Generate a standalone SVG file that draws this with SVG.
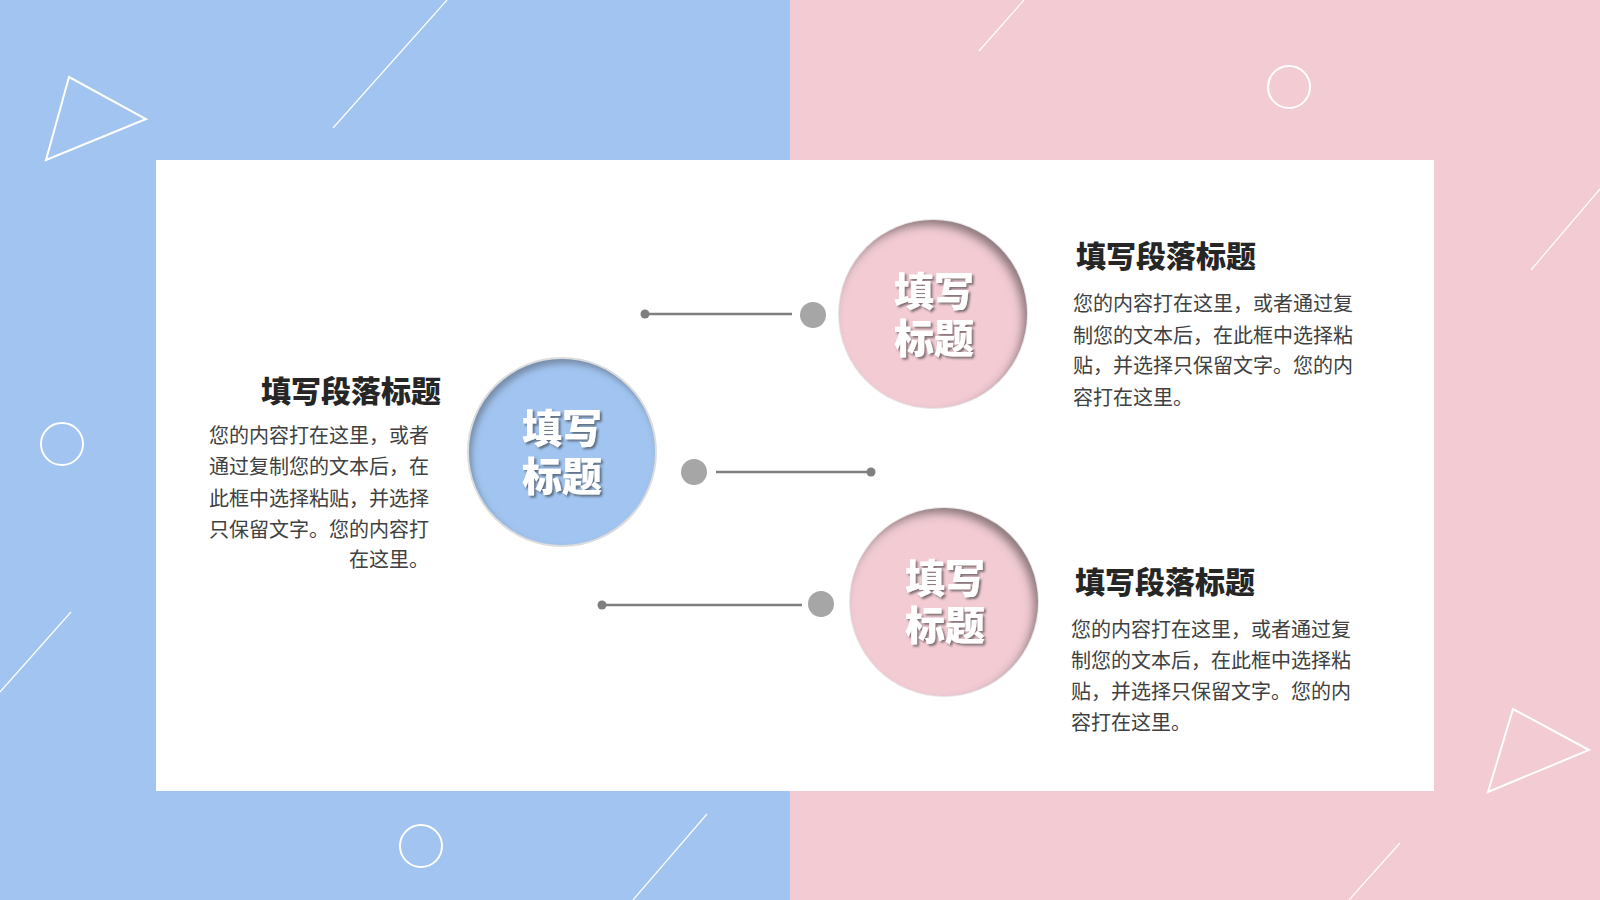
<svg xmlns="http://www.w3.org/2000/svg" width="1600" height="900" viewBox="0 0 1600 900">
<defs>
<style>
.deco{fill:none;stroke:#fff;stroke-width:2}
.decothin{fill:none;stroke:#fff;stroke-width:1.2}
.ctext{font-family:"Noto Sans CJK SC","Noto Sans",sans-serif;font-weight:900;font-size:40px;fill:#fff;text-anchor:middle}
.head{font-family:"Noto Sans CJK SC","Noto Sans",sans-serif;font-weight:900;font-size:30px;fill:#262626}
.body{font-family:"Noto Sans CJK SC","Noto Sans",sans-serif;font-size:20px;fill:#404040}
.conn{stroke:#7f7f7f;stroke-width:2.5}
.big{fill:#a6a6a6}
.small{fill:#7f7f7f}
</style>
<filter id="insetPink" x="-20%" y="-20%" width="140%" height="140%">
<feOffset in="SourceAlpha" dx="-5" dy="6" result="off"/>
<feGaussianBlur in="off" stdDeviation="4" result="blur"/>
<feComposite in="SourceAlpha" in2="blur" operator="out" result="inv"/>
<feFlood flood-color="#4a4a4a" flood-opacity="0.75"/>
<feComposite in2="inv" operator="in" result="sh"/>
<feMerge><feMergeNode in="SourceGraphic"/><feMergeNode in="sh"/></feMerge>
</filter>
<filter id="insetBlue" x="-20%" y="-20%" width="140%" height="140%">
<feOffset in="SourceAlpha" dx="3" dy="5" result="off"/>
<feGaussianBlur in="off" stdDeviation="3" result="blur"/>
<feComposite in="SourceAlpha" in2="blur" operator="out" result="inv"/>
<feFlood flood-color="#4a4a4a" flood-opacity="0.6"/>
<feComposite in2="inv" operator="in" result="sh"/>
<feMerge><feMergeNode in="SourceGraphic"/><feMergeNode in="sh"/></feMerge>
</filter>
<filter id="tshadow" x="-20%" y="-20%" width="140%" height="140%">
<feDropShadow dx="2" dy="2" stdDeviation="1.2" flood-color="#333" flood-opacity="0.6"/>
</filter>
</defs>

<g id="background">
<rect x="0" y="0" width="790" height="900" fill="#a1c4f0"/>
<rect x="790" y="0" width="810" height="900" fill="#f2cbd3"/>
<polygon class="deco" points="69,77 146,119 46,160"/>
<line class="decothin" x1="447" y1="0" x2="333" y2="128"/>
<circle class="deco" cx="62" cy="444" r="21"/>
<line class="decothin" x1="71" y1="612" x2="0" y2="692"/>
<circle class="deco" cx="421" cy="846" r="21"/>
<line class="decothin" x1="707" y1="814" x2="633" y2="900"/>
<line class="decothin" x1="1024" y1="0" x2="979" y2="51"/>
<circle class="deco" cx="1289" cy="87" r="21"/>
<line class="decothin" x1="1600" y1="189" x2="1531" y2="270"/>
<polygon class="deco" points="1513,709 1589,750 1488,792"/>
<line class="decothin" x1="1400" y1="843" x2="1349" y2="900"/>
<rect x="156" y="160" width="1278" height="631" fill="#fff"/>
</g>

<g id="connectors">
<line class="conn" x1="645" y1="314" x2="792" y2="314"/>
<circle class="small" cx="645" cy="314" r="4.5"/>
<circle class="big" cx="813" cy="315" r="13"/>
<line class="conn" x1="716" y1="472" x2="871" y2="472"/>
<circle class="big" cx="694" cy="472" r="13"/>
<circle class="small" cx="871" cy="472" r="4.5"/>
<line class="conn" x1="602" y1="605" x2="802" y2="605"/>
<circle class="small" cx="602" cy="605" r="4.5"/>
<circle class="big" cx="821" cy="604" r="13"/>
</g>

<g id="node-center">
<circle cx="562" cy="452" r="95" fill="#dcdcdc"/>
<circle cx="562" cy="452" r="93" fill="#a1c4f0" filter="url(#insetBlue)"/>
<text class="ctext" filter="url(#tshadow)"><tspan x="562" y="443">填写</tspan><tspan x="562" y="491">标题</tspan></text>
</g>

<g id="node-top">
<circle cx="933" cy="314" r="95" fill="#e6e6e6"/>
<circle cx="933" cy="314" r="94" fill="#f2cbd3" filter="url(#insetPink)"/>
<text class="ctext" filter="url(#tshadow)"><tspan x="934" y="306">填写</tspan><tspan x="934" y="353">标题</tspan></text>
</g>

<g id="node-bottom">
<circle cx="944" cy="602" r="95" fill="#e6e6e6"/>
<circle cx="944" cy="602" r="94" fill="#f2cbd3" filter="url(#insetPink)"/>
<text class="ctext" filter="url(#tshadow)"><tspan x="945" y="593">填写</tspan><tspan x="945" y="640">标题</tspan></text>
</g>

<g id="text-left">
<text class="head" x="441" y="402" text-anchor="end">填写段落标题</text>
<text class="body" x="429" y="443" text-anchor="end">您的内容打在这里，或者</text>
<text class="body" x="429" y="474" text-anchor="end">通过复制您的文本后，在</text>
<text class="body" x="429" y="506" text-anchor="end">此框中选择粘贴，并选择</text>
<text class="body" x="429" y="537" text-anchor="end">只保留文字。您的内容打</text>
<text class="body" x="429" y="567" text-anchor="end">在这里。</text>
</g>

<g id="text-top">
<text class="head" x="1076" y="267">填写段落标题</text>
<text class="body" x="1073" y="311">您的内容打在这里，或者通过复</text>
<text class="body" x="1073" y="343">制您的文本后，在此框中选择粘</text>
<text class="body" x="1073" y="373">贴，并选择只保留文字。您的内</text>
<text class="body" x="1073" y="405">容打在这里。</text>
</g>

<g id="text-bottom">
<text class="head" x="1075" y="593">填写段落标题</text>
<text class="body" x="1071" y="637">您的内容打在这里，或者通过复</text>
<text class="body" x="1071" y="668">制您的文本后，在此框中选择粘</text>
<text class="body" x="1071" y="699">贴，并选择只保留文字。您的内</text>
<text class="body" x="1071" y="730">容打在这里。</text>
</g>
</svg>
